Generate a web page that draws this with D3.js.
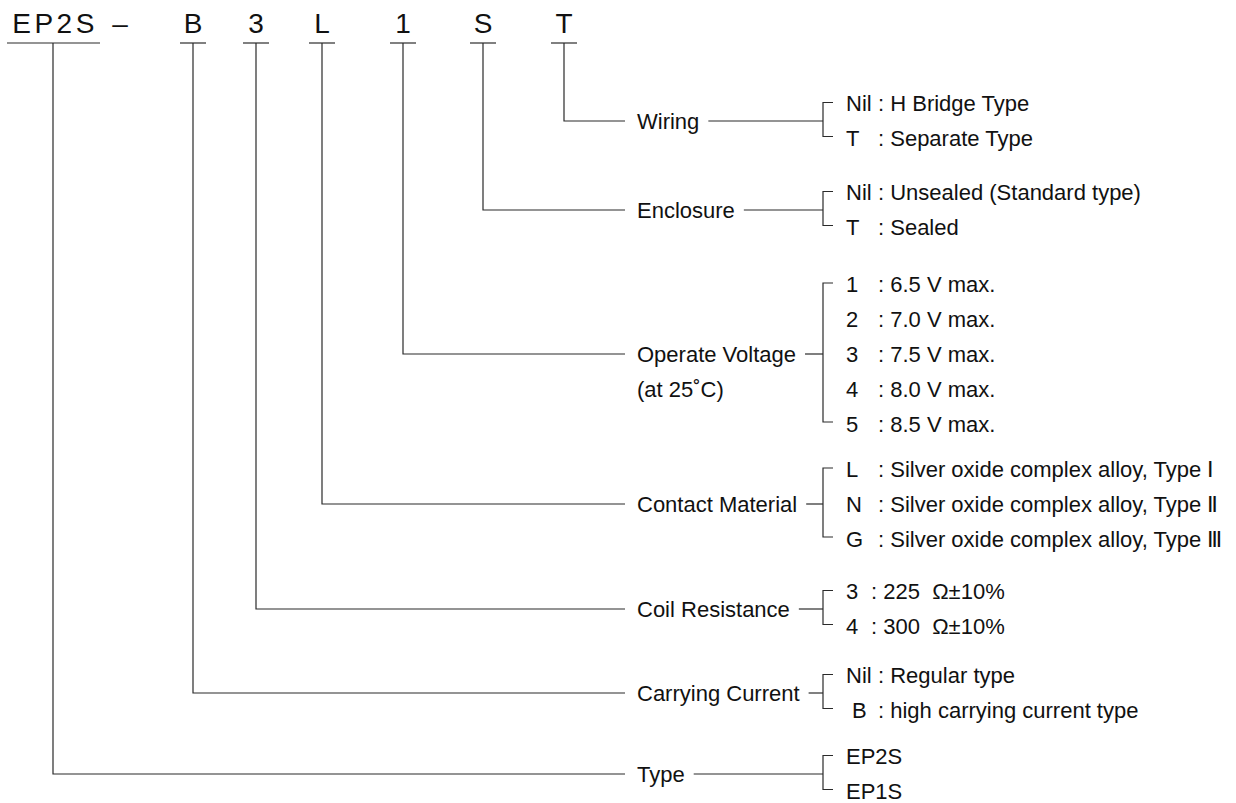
<!DOCTYPE html>
<html lang="en">
	<head>
		<meta charset="utf-8">
		<title> EP2S ordering code </title>
		<script type="text/javascript" src="https://cdn.jsdelivr.net/npm/d3@7/dist/d3.min.js"></script>
		<style type="text/css">
			body { margin: 0; background: #fff; }
			text { font-family: "Liberation Sans", Arial, sans-serif; fill: #111; white-space: pre; }
		</style>
	</head>
	<body>
		<div id="chart"></div>

		<script type="text/javascript">

			//Part number characters
			var codeChars = ["EP2S", "–", "B", "3", "L", "1", "S", "T"];

			//Groups, top to bottom, with the character each one explains
			var groupNames = ["Wiring", "Enclosure", "Operate Voltage", "Contact Material",
							  "Coil Resistance", "Carrying Current", "Type"];
			var groupCode = ["T", "S", "1", "L", "3", "B", "EP2S"];
			var groupNotes = ["", "", "(at 25˚C)", "", "", "", ""];

			//Options of each group: key, description
			var wiringOptions = [["Nil", "H Bridge Type"], ["T", "Separate Type"]];
			var enclosureOptions = [["Nil", "Unsealed (Standard type)"], ["T", "Sealed"]];
			var voltageOptions = [["1", "6.5 V max."], ["2", "7.0 V max."], ["3", "7.5 V max."],
								  ["4", "8.0 V max."], ["5", "8.5 V max."]];
			var contactOptions = [["L", "Silver oxide complex alloy, Type Ⅰ"],
								  ["N", "Silver oxide complex alloy, Type Ⅱ"],
								  ["G", "Silver oxide complex alloy, Type Ⅲ"]];
			var coilOptions = [["3", "225  Ω±10%"], ["4", "300  Ω±10%"]];
			var carryingOptions = [["Nil", "Regular type"], [" B", "high carrying current type"]];
			var typeOptions = [["EP2S", ""], ["EP1S", ""]];

			var groupOptions = [wiringOptions, enclosureOptions, voltageOptions, contactOptions,
								coilOptions, carryingOptions, typeOptions];

			//Layout
			var w = 1236;
			var h = 803;
			var charX = [53, 120, 193, 256, 322, 403, 483, 564];
			var rowY = [121, 210, 354, 504, 609, 693, 774];
			var lineY = 43;
			var labelX = 637;
			var bracketX = 823;
			var keyX = 846;
			var step = 35;
			var fontSize = "22px";
			var lineColor = "#2a2a2a";

			var svg = d3.select("#chart")
				.append("svg")
				.attr("width", w)
				.attr("height", h);

			//Header characters with their underlines
			var head = svg.selectAll("g.head")
				.data(codeChars)
				.enter()
				.append("g")
				.attr("class", "head")
				.attr("transform", function(d, i) {
					return "translate(" + charX[i] + ",0)";
				});

			head.append("text")
				.text(function(d) { return d; })
				.attr("text-anchor", "middle")
				.attr("x", function(d) { return d.length > 1 ? 2 : 0; })
				.attr("y", 33)
				.attr("font-size", "28px")
				.attr("letter-spacing", function(d) { return d.length > 1 ? "3.5px" : "0px"; });

			head.filter(function(d) { return d !== "–"; })
				.append("line")
				.attr("x1", function(d) { return d.length > 1 ? -46 : -13; })
				.attr("x2", function(d) { return d.length > 1 ? 47 : 13; })
				.attr("y1", lineY)
				.attr("y2", lineY)
				.attr("stroke", lineColor)
				.attr("stroke-width", 1.2);

			//One group per row
			var rows = svg.selectAll("g.row")
				.data(groupNames)
				.enter()
				.append("g")
				.attr("class", "row");

			rows.each(function(name, i) {
				var g = d3.select(this);
				var y = rowY[i];
				var x0 = charX[codeChars.indexOf(groupCode[i])];
				var opts = groupOptions[i];
				var top = y - (opts.length - 1) * step / 2;

				//elbow from the character down to the label
				g.append("path")
					.attr("d", "M" + x0 + "," + lineY + "V" + y + "H625")
					.attr("fill", "none")
					.attr("stroke", lineColor)
					.attr("stroke-width", 1.2);

				var label = g.append("text")
					.text(name)
					.attr("x", labelX)
					.attr("y", y)
					.attr("dy", "0.35em")
					.attr("font-size", fontSize);

				if (groupNotes[i]) {
					g.append("text")
						.text(groupNotes[i])
						.attr("x", labelX)
						.attr("y", y + step)
						.attr("dy", "0.35em")
						.attr("font-size", fontSize);
				}

				var end = labelX + label.node().getComputedTextLength() + 9;
				g.append("line")
					.attr("x1", end)
					.attr("x2", bracketX)
					.attr("y1", y)
					.attr("y2", y)
					.attr("stroke", lineColor)
					.attr("stroke-width", 1.2);

				//bracket
				var yTop = top - 1;
				var yBot = top + (opts.length - 1) * step - 2;
				g.append("path")
					.attr("d", "M" + (bracketX + 10) + "," + yTop + "H" + bracketX + "V" + yBot + "H" + (bracketX + 10))
					.attr("fill", "none")
					.attr("stroke", lineColor)
					.attr("stroke-width", 1.2);

				//options
				var colonX = (groupNames[i] === "Coil Resistance") ? 871 : 878;
				g.selectAll("text.opt")
					.data(opts)
					.enter()
					.append("text")
					.attr("class", "opt")
					.attr("x", keyX)
					.attr("y", function(d, j) { return top + j * step; })
					.attr("dy", "0.35em")
					.attr("font-size", fontSize)
					.each(function(d) {
						var t = d3.select(this);
						t.append("tspan").text(d[0]);
						if (d[1]) {
							t.append("tspan").attr("x", colonX).text(": " + d[1]);
						}
					});
			});

		</script>
	</body>
</html>
